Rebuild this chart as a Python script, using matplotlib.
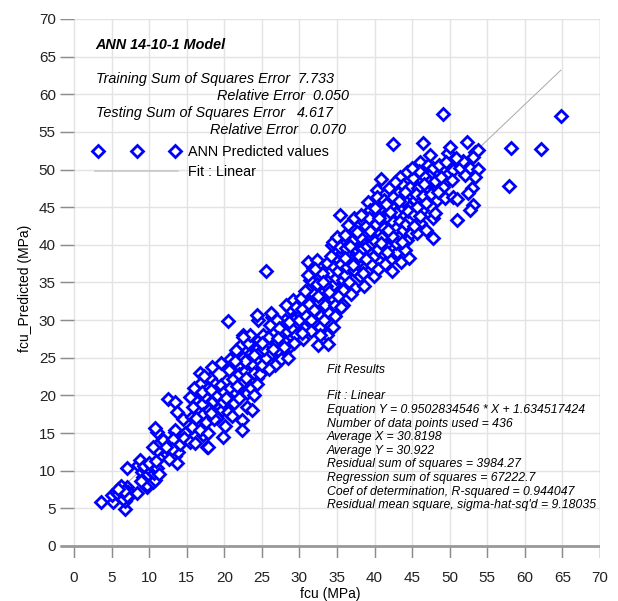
import matplotlib.pyplot as plt
import numpy as np

plt.rcParams['font.family'] = ['Liberation Sans', 'DejaVu Sans']

# (fcu, fcu_predicted) pairs in MPa, grouped by measured-strength band
band_00_10 = [(3.6, 5.8), (5.2, 5.8), (6.8, 4.9), (6.8, 6.0), (5.0, 6.8), (5.6, 7.2), (6.0, 7.5), (6.3, 7.0),
              (6.6, 7.6), (7.0, 7.8), (7.2, 7.2), (5.9, 6.9), (6.5, 6.3), (7.6, 6.9), (8.4, 7.0), (6.2, 7.9),
              (7.0, 6.6), (7.1, 10.4), (8.5, 10.8), (8.8, 11.4), (9.7, 7.8), (9.7, 8.1), (9.2, 9.2), (9.0, 9.8),
              (9.5, 10.2), (9.9, 9.5), (9.3, 10.6), (8.9, 8.6), (6.7, 7.3), (5.8, 7.6)]
band_10_15 = [(10.5, 8.5), (10.8, 8.8), (10.2, 10.0), (10.6, 9.7), (10.4, 10.6), (11.0, 10.3), (10.0, 11.0),
              (11.3, 9.5), (10.9, 11.3), (11.0, 12.7), (11.5, 13.8), (13.0, 13.4), (12.4, 12.2), (12.8, 12.8),
              (13.5, 12.0), (13.9, 12.5), (14.1, 13.6), (13.7, 11.0), (13.4, 15.1), (11.0, 15.1), (12.0, 14.0),
              (11.9, 14.1), (10.5, 13.1), (10.8, 15.7), (13.4, 15.4), (12.5, 19.5), (13.4, 19.1), (13.7, 17.8),
              (14.5, 16.9), (14.8, 15.0), (12.7, 11.5), (13.2, 14.2), (14.6, 14.4), (13.1, 12.9), (12.2, 13.2)]
band_15_20 = [(15.4, 13.8), (16.1, 13.7), (17.7, 13.1), (17.2, 14.7), (15.7, 17.1), (15.7, 15.8), (16.8, 15.4),
              (17.8, 15.0), (17.8, 13.1), (16.8, 23.0), (18.4, 23.8), (18.1, 22.3), (15.9, 18.5), (16.3, 19.6),
              (16.6, 20.5), (17.0, 18.8), (17.4, 19.9), (17.8, 21.0), (17.2, 17.5), (18.0, 18.0), (18.5, 19.3),
              (18.9, 20.0), (19.0, 17.0), (16.0, 21.0), (17.6, 16.5), (18.6, 16.8), (19.4, 18.5), (19.7, 18.1),
              (19.8, 19.1), (19.0, 20.0), (16.9, 21.7), (17.3, 22.6), (18.8, 21.5), (16.2, 17.0), (15.5, 19.8),
              (18.3, 17.6), (19.5, 21.4), (19.8, 14.5), (19.6, 24.3), (17.1, 20.4), (18.2, 20.7)]
band_20_25 = [(20.1, 15.9), (20.5, 29.9), (22.4, 16.7), (22.4, 15.4), (23.0, 18.5), (24.4, 22.3), (23.0, 20.3),
              (20.0, 20.5), (20.3, 22.0), (20.7, 21.0), (21.0, 23.5), (21.2, 22.2), (21.5, 20.3), (21.8, 24.0),
              (22.0, 22.8), (22.2, 21.5), (22.5, 25.0), (22.7, 23.2), (23.0, 24.3), (23.3, 22.0), (23.5, 25.6),
              (23.8, 24.0), (24.0, 23.0), (24.2, 26.0), (24.5, 24.8), (24.8, 22.8), (20.2, 19.6), (20.8, 24.8),
              (21.5, 26.0), (22.3, 26.8), (23.2, 27.0), (24.6, 27.3), (20.5, 17.8), (21.3, 19.0), (22.0, 19.6),
              (23.5, 21.0), (24.0, 20.0), (24.8, 25.8), (21.7, 21.2), (22.8, 24.6), (20.6, 23.4), (24.3, 21.5),
              (23.7, 18.0), (21.0, 17.2), (24.5, 30.0), (22.5, 28.0), (24.4, 30.7), (23.4, 28.0), (22.5, 27.8),
              (21.4, 24.6), (22.9, 22.3), (23.9, 25.3)]
band_25_30 = [(25.6, 36.5), (25.2, 28.0), (26.4, 30.4), (25.0, 24.0), (25.5, 25.0), (25.8, 26.5), (26.0, 27.8),
              (26.3, 25.6), (26.6, 28.5), (26.9, 27.0), (27.2, 26.0), (27.5, 28.0), (27.8, 29.5), (28.0, 27.2),
              (28.1, 30.0), (28.4, 28.5), (28.7, 26.5), (29.0, 29.0), (29.2, 32.7), (29.4, 30.2), (29.6, 28.0),
              (29.9, 31.0), (25.3, 26.2), (26.1, 29.3), (27.0, 30.0), (27.6, 24.8), (28.5, 25.0), (29.3, 27.0),
              (26.8, 24.0), (25.9, 23.5), (28.8, 31.5), (27.3, 29.0), (25.0, 27.0), (26.5, 26.2), (27.9, 26.4),
              (29.8, 29.6), (28.2, 32.0), (26.2, 31.0), (27.1, 27.6), (28.6, 29.8), (29.5, 31.8)]
band_30_35 = [(31.2, 37.7), (32.4, 38.0), (31.8, 36.9), (33.7, 37.6), (34.4, 40.0), (31.4, 35.3), (32.8, 35.7),
              (31.2, 34.0), (34.5, 34.7), (31.8, 32.7), (32.8, 29.1), (33.7, 28.0), (34.5, 29.1), (32.5, 26.7),
              (31.0, 31.7), (30.0, 30.0), (30.3, 31.5), (30.6, 29.0), (30.9, 30.6), (31.3, 32.2), (31.6, 30.0),
              (32.0, 33.5), (32.2, 31.2), (32.6, 32.4), (32.9, 30.5), (33.1, 33.8), (33.4, 32.0), (33.6, 34.5),
              (33.9, 31.0), (34.1, 36.4), (34.3, 33.0), (34.7, 32.0), (34.9, 35.6), (30.2, 33.0), (30.5, 27.5),
              (31.5, 28.5), (32.3, 34.8), (33.0, 36.2), (33.3, 30.0), (34.0, 33.8), (34.6, 37.0), (30.8, 33.9),
              (31.9, 31.4), (32.7, 28.0), (30.4, 28.3), (34.8, 30.5), (33.8, 26.8), (31.1, 36.0), (32.1, 36.8),
              (34.5, 40.4), (33.2, 35.0), (32.5, 33.2), (34.2, 38.5)]
band_35_40 = [(35.0, 41.0), (36.4, 41.3), (35.8, 40.0), (35.7, 38.9), (35.8, 35.3), (35.8, 34.0), (35.8, 32.0),
              (35.4, 44.0), (37.7, 42.4), (37.0, 42.2), (36.1, 41.3), (35.4, 39.7), (36.4, 38.9), (38.5, 40.2),
              (38.5, 38.6), (39.8, 38.4), (39.1, 45.7), (39.4, 44.6), (39.7, 42.4), (39.7, 41.0), (35.2, 36.5),
              (35.6, 37.5), (36.0, 36.0), (36.3, 37.0), (36.6, 35.0), (36.9, 38.0), (37.2, 36.6), (37.5, 39.4),
              (37.8, 37.5), (38.1, 35.8), (38.3, 39.5), (38.7, 37.0), (39.0, 39.8), (39.3, 36.5), (39.6, 40.2),
              (36.2, 39.6), (37.0, 40.5), (37.4, 34.2), (38.0, 41.0), (38.8, 42.5), (39.2, 43.6), (36.8, 33.5),
              (35.1, 33.2), (37.9, 38.5), (38.4, 36.2), (39.5, 37.5), (36.5, 42.6), (37.3, 43.5), (35.5, 31.8),
              (38.6, 34.5), (39.9, 35.8), (36.7, 39.9), (37.6, 41.7), (38.2, 43.9), (39.4, 41.8), (38.9, 38.1),
              (36.0, 38.2), (37.1, 37.3)]
band_40_45 = [(40.3, 47.3), (40.3, 46.3), (40.7, 44.2), (41.7, 44.6), (41.1, 43.3), (40.7, 41.6), (41.1, 38.9),
              (42.1, 38.0), (43.4, 49.0), (44.3, 49.7), (43.8, 47.9), (43.1, 46.9), (44.3, 46.3), (44.7, 47.7),
              (44.3, 40.6), (42.5, 53.4), (40.0, 40.5), (40.2, 42.8), (40.5, 39.5), (40.8, 45.0), (41.0, 41.0),
              (41.3, 42.2), (41.5, 40.0), (41.8, 43.5), (42.0, 41.6), (42.2, 45.2), (42.4, 43.0), (42.6, 39.6),
              (42.8, 42.3), (43.0, 44.4), (43.2, 41.0), (43.4, 43.2), (43.6, 45.0), (43.8, 42.0), (44.0, 44.0),
              (44.2, 42.8), (44.5, 45.2), (44.7, 43.6), (44.9, 41.6), (40.4, 36.8), (41.4, 37.5), (42.3, 36.5),
              (43.0, 39.0), (44.0, 39.3), (41.9, 47.5), (42.7, 48.3), (40.9, 48.8), (43.5, 37.7), (44.6, 38.2),
              (40.6, 43.5), (41.2, 46.0), (42.9, 40.2), (43.9, 46.0), (42.0, 44.3), (41.6, 39.0), (40.1, 44.9),
              (41.5, 45.4), (42.5, 46.4), (43.3, 45.8), (44.1, 47.0), (42.3, 41.2), (43.7, 40.4), (41.8, 42.0),
              (44.4, 44.5), (40.9, 40.2)]
band_45_50 = [(49.1, 57.4), (46.5, 53.5), (49.8, 52.2), (46.1, 51.0), (47.1, 50.6), (47.8, 50.2), (49.1, 49.9),
              (49.7, 48.6), (49.1, 47.7), (47.8, 43.6), (48.3, 45.9), (47.8, 40.9), (45.1, 48.9), (46.7, 49.0),
              (47.0, 47.7), (45.8, 47.5), (45.4, 45.9), (46.3, 44.6), (46.1, 42.9), (45.7, 41.6), (45.2, 44.0),
              (45.5, 46.8), (45.9, 49.8), (46.4, 46.5), (46.8, 45.5), (47.2, 48.4), (47.5, 46.7), (48.0, 48.5),
              (48.5, 47.0), (48.8, 49.0), (49.4, 46.2), (45.3, 42.5), (46.0, 43.8), (46.9, 42.0), (48.6, 50.6),
              (49.5, 51.0), (45.0, 50.2), (47.4, 52.0), (48.1, 44.2), (49.9, 49.5), (46.6, 48.1), (45.6, 45.0)]
band_50_65 = [(50.1, 53.0), (52.3, 53.7), (53.4, 52.3), (53.1, 51.7), (50.5, 49.9), (51.4, 50.2), (52.7, 50.2),
              (53.7, 50.1), (53.0, 47.5), (52.5, 46.9), (50.5, 46.3), (51.0, 46.1), (53.1, 45.3), (52.7, 44.6),
              (51.0, 43.3), (58.1, 52.9), (62.1, 52.7), (64.8, 57.1), (57.9, 47.8), (53.7, 52.6), (50.3, 48.6),
              (51.8, 51.2), (52.0, 49.3), (50.8, 51.6), (53.3, 49.0)]

slope = 0.9502834546
intercept = 1.634517424

ticks = list(range(0, 75, 5))

pts = np.array(band_00_10 + band_10_15 + band_15_20 + band_20_25 + band_25_30
               + band_30_35 + band_35_40 + band_40_45 + band_45_50 + band_50_65)
fcu, fcu_pred = pts[:, 0], pts[:, 1]

fig = plt.figure(figsize=(6.18, 6.01), dpi=100)
ax = fig.add_axes([60 / 618, 1 - 558 / 601, 540 / 618, 539 / 601])
x0, y0 = -1.86, -1.6
ax.set_xlim(x0, 70)
ax.set_ylim(y0, 70)
for s in ax.spines.values():
    s.set_visible(False)

# grid plus the short tick stubs outside the zero lines
ax.vlines(ticks, y0, 70, color='#e3e3e3', lw=1, zorder=0)
ax.hlines(ticks, x0, 70, color='#e3e3e3', lw=1, zorder=0)
ax.vlines(ticks, y0, 0, color='#8c8c8c', lw=1, zorder=1)
ax.hlines(ticks, x0, 0, color='#8c8c8c', lw=1, zorder=1)
ax.vlines([70], y0, 70, color='#c8c8c8', lw=1, zorder=1)
ax.hlines([0], x0, 70, color='#999999', lw=2, zorder=1)

ax.set_xticks(ticks)
ax.set_yticks(ticks)
ax.tick_params(axis='x', length=0, pad=9, labelsize=11, labelcolor='#222222')
ax.tick_params(axis='y', length=0, pad=3, labelsize=11, labelcolor='#222222')
ax.set_xlabel('fcu (MPa)', fontsize=10, labelpad=2)
ax.set_ylabel('fcu_Predicted (MPa)', fontsize=10, labelpad=5)

# linear fit over the data range
xf = np.array([fcu.min(), fcu.max()])
ax.plot(xf, slope * xf + intercept, color='#a8a8a8', lw=0.7, zorder=2)

mk = dict(ls='none', marker='D', ms=6.0, mfc='white', mec='#0000ff', mew=2.0)
ax.plot(fcu, fcu_pred, zorder=3, clip_on=False, **mk)


def ftext(px, py, s, **kw):
    fig.text(px / 618, 1 - py / 601, s, va='baseline', **kw)


ftext(95, 49, 'ANN 14-10-1 Model', fontsize=10.4, fontweight='bold', style='italic')
ftext(96, 83, 'Training Sum of Squares Error  7.733', fontsize=10.4, style='italic')
ftext(349, 100, 'Relative Error  0.050', fontsize=10.4, style='italic', ha='right')
ftext(96, 117, 'Testing Sum of Squares Error   4.617', fontsize=10.4, style='italic')
ftext(346, 134, 'Relative Error   0.070', fontsize=10.4, style='italic', ha='right')

# legend
for lx in (98, 137, 175):
    fig.lines.append(plt.Line2D([lx / 618], [1 - 151 / 601], transform=fig.transFigure, **mk))
ftext(188, 156, 'ANN Predicted values', fontsize=10.4)
fig.lines.append(plt.Line2D([95 / 618, 178 / 618], [1 - 171 / 601] * 2, transform=fig.transFigure,
                            color='#c8c8c8', lw=1.2))
ftext(188, 176, 'Fit : Linear', fontsize=10.4)

fit_lines = [
    'Fit : Linear',
    'Equation Y = 0.9502834546 * X + 1.634517424',
    'Number of data points used = 436',
    'Average X = 30.8198',
    'Average Y = 30.922',
    'Residual sum of squares = 3984.27',
    'Regression sum of squares = 67222.7',
    'Coef of determination, R-squared = 0.944047',
    "Residual mean square, sigma-hat-sq'd = 9.18035",
]
ftext(327, 373, 'Fit Results', fontsize=8.8, style='italic')
for i, line in enumerate(fit_lines):
    ftext(327, 399.3 + i * 13.6, line, fontsize=8.8, style='italic')

fig.savefig('out.png', dpi=100)
